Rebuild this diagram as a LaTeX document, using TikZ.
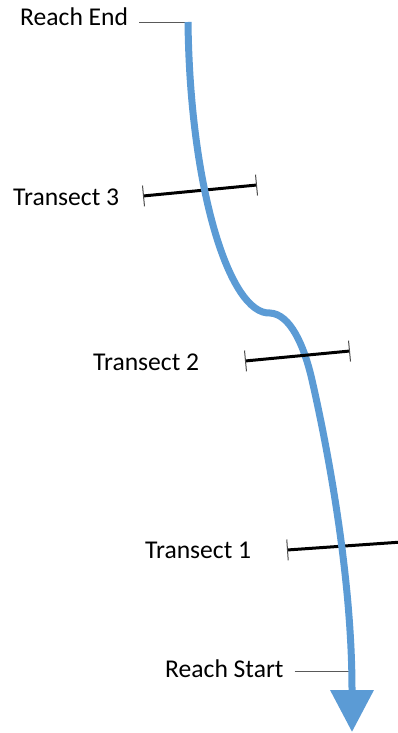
\documentclass[tikz,border=0pt]{standalone}
\usepackage{fontspec}
\setmainfont{Carlito}
\usetikzlibrary{positioning,arrows.meta,calc}
\definecolor{riverblue}{RGB}{91,155,213}
\tikzstyle{lbl}=[anchor=base west, inner sep=0pt, font=\fontsize{25.6}{30}\selectfont]
\tikzstyle{river}=[line width=7pt, draw=riverblue, -{Triangle[width=42pt,length=42pt]}]
\tikzstyle{tline}=[line width=3pt, draw=black]
\tikzstyle{leader}=[line width=0.8pt, draw=black!65]
\tikzset{TBar/.tip={Bar[width=21pt, line width=1pt, color=black!70]}}

\begin{document}
\begin{tikzpicture}[x=1pt,y=-1pt]
\useasboundingbox (0,0) rectangle (398,733);
% labels
\node (REND) [lbl] at (20,26) {Reach End};
\node (T3) [lbl] at (13,205) {Transect 3};
\node (T2) [lbl] at (93,370) {Transect 2};
\node (T1) [lbl] at (145,558) {Transect 1};
\node (RSTART) [lbl] at (165,677) {Reach Start};
% river
\coordinate (top) at (188,22);
\coordinate (bump) at (270,313);
\coordinate (bend) at (312,380);
\coordinate (foot) at (352,690);
\coordinate (mouth) at (352,732);
\coordinate (rs) at (350,671);
% transects
\coordinate (T3a) at (143,196);
\coordinate (T3b) at (257,185);
\coordinate (T2a) at (245,361);
\coordinate (T2b) at (350,351);
\coordinate (T1a) at (287,550);
\coordinate (T1b) at (402,542);
 \draw[leader, shorten <=11pt] (REND.east |- top) -- (top);
 \draw[leader, shorten <=11pt] (RSTART.east |- rs) -- (rs);
 \draw[tline, TBar-TBar] (T3a) -- (T3b);
 \draw[tline, TBar-] (T1a) -- (T1b);
 \draw[river] (top) .. controls (190,190) and (230,315) .. (bump)
   .. controls (290,314) and (304,345) .. (bend)
   .. controls (320,415) and (352,560) .. (foot) -- (mouth);
 \draw[tline, TBar-TBar] (T2a) -- (T2b);
\end{tikzpicture}
\end{document}
